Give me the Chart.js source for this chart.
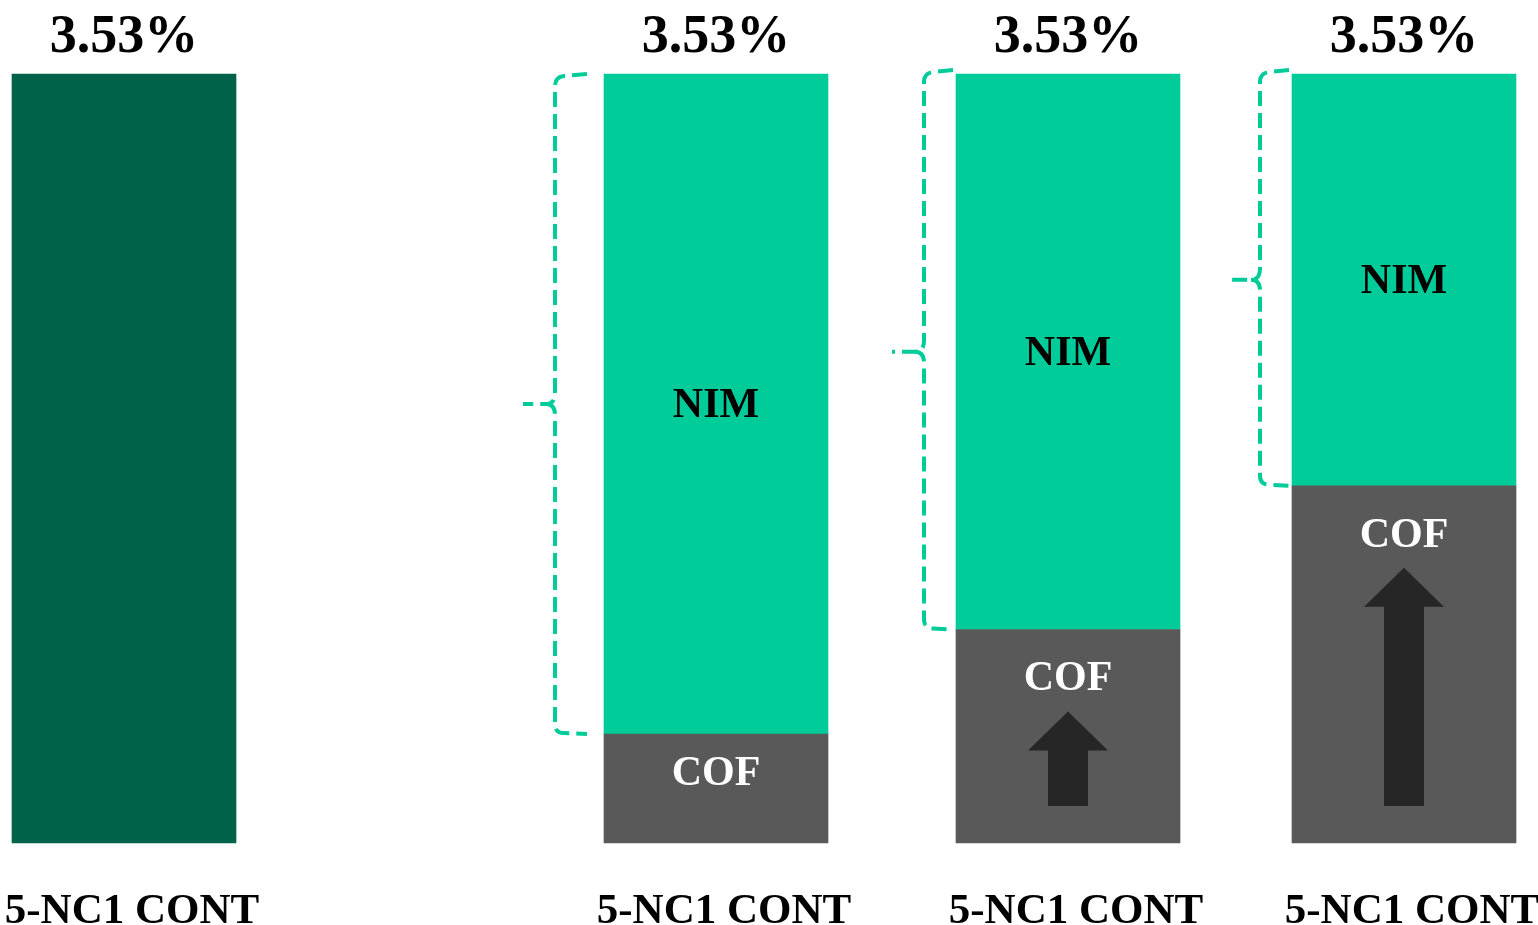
<!DOCTYPE html>
<html><head><meta charset="utf-8">
<script src="https://cdn.jsdelivr.net/npm/chart.js@4"></script>
<style>html,body{margin:0;padding:0;background:#fff;overflow:hidden}#wrap{width:1538px;height:925px;position:relative}</style>
</head><body><div id="wrap"><canvas id="c" width="1538" height="925"></canvas></div>
<script>
// ---- data ----
const categories = ['5-NC1 CONT', '5-NC1 CONT', '5-NC1 CONT', '5-NC1 CONT'];
const totalValues = [3.53, null, null, null];
const cofValues = [null, 0.50, 0.98, 1.64];
const nimValues = [null, 3.03, 2.55, 1.89];
const totalLabels = ['3.53%', '3.53%', '3.53%', '3.53%'];
const nimName = 'NIM';
const cofName = 'COF';

// ---- layout / style config (not data) ----
const spacerSlots = [36, 21, 20];           // blank category slots between bars
const braceStyle = [null,
  { gap: 49, end: 17, lift: 0 },
  { gap: 32, end: 3, lift: 4 },
  { gap: 32, end: 3, lift: 4 }];

// ---- expand to category slots ----
const labels = [], totSlots = [], cofSlots = [], nimSlots = [], barSlot = [];
categories.forEach((c, i) => {
  barSlot.push(labels.length);
  labels.push(c);
  totSlots.push(totalValues[i]);
  cofSlots.push(cofValues[i]);
  nimSlots.push(nimValues[i]);
  if (i < spacerSlots.length) {
    for (let k = 0; k < spacerSlots[i]; k++) {
      labels.push(''); totSlots.push(null); cofSlots.push(null); nimSlots.push(null);
    }
  }
});

const FONT = "'Times New Roman', 'Liberation Serif', serif";
const C_TOTAL = '#006349', C_NIM = '#00CC99', C_COF = '#595959', C_ARROW = '#262626';

const annot = {
  id: 'annot',
  afterDatasetsDraw(chart) {
    const ctx = chart.ctx;
    const mCof = chart.getDatasetMeta(0), mNim = chart.getDatasetMeta(1), mTot = chart.getDatasetMeta(2);
    ctx.save();
    categories.forEach((c, i) => {
      const s = barSlot[i];
      const els = [];
      if (cofValues[i] != null) els.push(mCof.data[s]);
      if (nimValues[i] != null) els.push(mNim.data[s]);
      if (totalValues[i] != null) els.push(mTot.data[s]);
      const top = Math.min(...els.map(e => e.y));
      const cx = els[0].x;
      // total label
      ctx.fillStyle = '#000';
      ctx.font = 'bold 54px ' + FONT;
      ctx.textAlign = 'center';
      ctx.textBaseline = 'alphabetic';
      ctx.fillText(totalLabels[i], cx, top - 22);

      if (nimValues[i] != null) {
        const e = mNim.data[s];
        const yB = e.base, left = e.x - e.width / 2;
        const bs = braceStyle[i] || { gap: 40, end: 10, lift: 0 };
        const yT = e.y - bs.lift;
        ctx.font = 'bold 42px ' + FONT;
        ctx.fillStyle = '#000';
        ctx.textBaseline = 'middle';
        ctx.fillText(nimName, e.x, (e.y + yB) / 2 + 2);
        // curly brace
        const x0 = left - bs.gap, xe = left - bs.end, tip = left - bs.gap - 32, mid = (e.y + yB) / 2, r = 9;
        ctx.strokeStyle = C_NIM;
        ctx.lineWidth = 4;
        ctx.setLineDash([15, 7]);
        ctx.lineCap = 'butt';
        ctx.beginPath();
        ctx.moveTo(xe, yT);
        ctx.lineTo(x0 + r, yT + 2);
        ctx.quadraticCurveTo(x0, yT + 3, x0, yT + r + 3);
        ctx.lineTo(x0, mid - r - 2);
        ctx.quadraticCurveTo(x0, mid, x0 - r, mid);
        ctx.lineTo(tip, mid);
        ctx.stroke();
        ctx.beginPath();
        ctx.moveTo(x0 - r, mid);
        ctx.quadraticCurveTo(x0, mid, x0, mid + r + 2);
        ctx.lineTo(x0, yB - r - 1);
        ctx.quadraticCurveTo(x0, yB - 1, x0 + r, yB - 1);
        ctx.lineTo(xe, yB);
        ctx.stroke();
        ctx.setLineDash([]);
      }
      if (cofValues[i] != null) {
        const e = mCof.data[s];
        const h = e.base - e.y;
        // arrow when COF rises versus previous bar
        if (i > 0 && cofValues[i - 1] != null && cofValues[i] > cofValues[i - 1]) {
          const yb = e.base - 37, yt = e.y + 82, hh = 39, hw = 40, sw = 20;
          ctx.fillStyle = C_ARROW;
          ctx.beginPath();
          ctx.moveTo(e.x, yt);
          ctx.lineTo(e.x + hw, yt + hh);
          ctx.lineTo(e.x + sw, yt + hh);
          ctx.lineTo(e.x + sw, yb);
          ctx.lineTo(e.x - sw, yb);
          ctx.lineTo(e.x - sw, yt + hh);
          ctx.lineTo(e.x - hw, yt + hh);
          ctx.closePath();
          ctx.fill();
        }
        ctx.font = 'bold 42px ' + FONT;
        ctx.fillStyle = '#fff';
        ctx.textBaseline = 'middle';
        ctx.fillText(cofName, e.x, e.y + Math.min(48, h * 0.35) + 2);
      }
    });
    ctx.restore();
  }
};

new Chart(document.getElementById('c'), {
  type: 'bar',
  data: {
    labels: labels,
    datasets: [
      { label: 'COF', data: cofSlots, backgroundColor: C_COF, barThickness: 224, clip: false, borderWidth: 0 },
      { label: 'NIM', data: nimSlots, backgroundColor: C_NIM, barThickness: 224, clip: false, borderWidth: 0 },
      { label: 'Total', data: totSlots, backgroundColor: C_TOTAL, barThickness: 224, clip: false, borderWidth: 0 }
    ]
  },
  options: {
    responsive: false,
    animation: false,
    devicePixelRatio: 1,
    layout: { padding: { top: 74, left: 116, right: 126, bottom: 0 } },
    plugins: { legend: { display: false }, tooltip: { enabled: false } },
    scales: {
      x: {
        stacked: true,
        grid: { display: false, drawTicks: false },
        border: { display: false },
        ticks: {
          autoSkip: false, maxRotation: 0, minRotation: 0, padding: 43, labelOffset: 8,
          color: '#000', font: { family: FONT, size: 43, weight: 'bold' }
        },
        afterFit(scale) { scale.height = 82; scale.paddingLeft = 0; scale.paddingRight = 0; }
      },
      y: { stacked: true, display: false, min: 0, max: 3.53 }
    }
  },
  plugins: [annot]
});
</script>
</body></html>
